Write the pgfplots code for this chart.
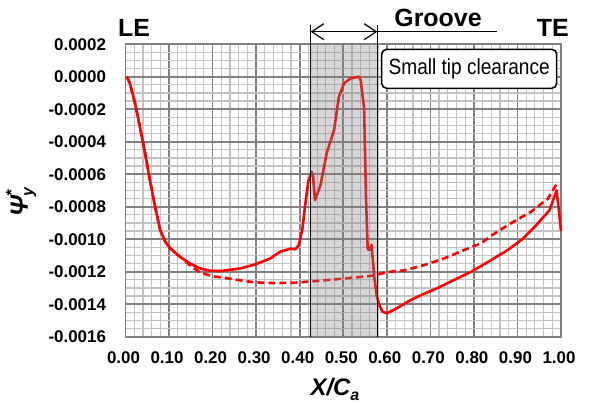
\documentclass[border=0pt]{standalone}
\usepackage{fontspec}
\setmainfont{Liberation Sans}
\usepackage{graphicx}
\usepackage{pgfplots}
\pgfplotsset{compat=1.18}
\usetikzlibrary{arrows.meta}
\definecolor{minorgrid}{gray}{0.76}
\definecolor{majorgrid}{gray}{0.5}
\begin{document}
\begin{tikzpicture}
\useasboundingbox (-125.5bp,-68.3bp) rectangle (464.5bp,336.7bp);
\begin{axis}[
  at={(0,0)}, anchor=south west,
  scale only axis, width=435.5bp, height=292.5bp,
  xmin=0, xmax=1, ymin=-0.0016, ymax=0.0002,
  xtick={0,0.1,0.2,0.3,0.4,0.5,0.6,0.7,0.8,0.9,1},
  xticklabels={0.00,0.10,0.20,0.30,0.40,0.50,0.60,0.70,0.80,0.90,1.00},
  ytick={-0.0016,-0.0014,-0.0012,-0.001,-0.0008,-0.0006,-0.0004,-0.0002,0,0.0002},
  yticklabels={-0.0016,-0.0014,-0.0012,-0.0010,-0.0008,-0.0006,-0.0004,-0.0002,0.0000,0.0002},
  scaled x ticks=false, scaled y ticks=false,
  minor x tick num=4, minor y tick num=3,
  grid=both,
  minor grid style={draw=minorgrid, line width=1.2bp},
  major grid style={draw=majorgrid, line width=1.7bp},
  axis line style={draw=majorgrid, line width=1.7bp},
  major tick length=0pt, minor tick length=0pt,
  tick style={draw=none},
  /pgf/number format/assume math mode=true,
  xticklabel style={font=\fontsize{17}{17}\selectfont\bfseries, yshift=-11bp, xshift=-2bp},
  yticklabel style={font=\fontsize{17}{17}\selectfont\bfseries, xshift=-16bp},
  clip=false,
]
\addplot[red, line width=2.6bp, dash pattern=on 7bp off 4bp, line join=round] coordinates {
(0.003,0) (0.01,-0.00004) (0.022,-0.000164) (0.033,-0.000308) (0.045,-0.000471)
(0.056,-0.000636) (0.068,-0.0008) (0.0795,-0.000943) (0.091,-0.001015) (0.1025,-0.001056)
(0.125,-0.001108) (0.148,-0.00116) (0.171,-0.001205) (0.2,-0.001228) (0.232,-0.00124)
(0.256,-0.00125) (0.294,-0.001265) (0.34,-0.00127) (0.386,-0.001268) (0.44,-0.001257)
(0.49,-0.001245) (0.532,-0.001234) (0.565,-0.001225) (0.59,-0.00121) (0.609,-0.0012)
(0.64,-0.001192) (0.686,-0.001159) (0.732,-0.001118) (0.778,-0.001066) (0.817,-0.001025)
(0.84,-0.000978) (0.886,-0.0009) (0.932,-0.00083) (0.97,-0.00075) (0.99,-0.00066)
};
\addplot[red, line width=2.6bp, line join=round] coordinates {
(0.003,0) (0.01,-0.00004) (0.022,-0.000164) (0.033,-0.000308) (0.045,-0.000471)
(0.056,-0.000636) (0.068,-0.0008) (0.0795,-0.000943) (0.091,-0.001015) (0.1025,-0.001056)
(0.125,-0.001108) (0.148,-0.001149) (0.171,-0.00118) (0.195,-0.001194) (0.218,-0.001196)
(0.264,-0.00118) (0.30,-0.001153) (0.333,-0.001118) (0.355,-0.001077) (0.364,-0.00107)
(0.379,-0.001058) (0.39,-0.001062) (0.398,-0.001036) (0.406,-0.00094) (0.413,-0.00078)
(0.42,-0.00064) (0.4275,-0.000585) (0.431,-0.00062) (0.435,-0.00076) (0.448,-0.000665)
(0.462,-0.00047) (0.479,-0.000328) (0.49,-0.000123) (0.502,-0.00004) (0.517,-0.00001)
(0.536,0) (0.54,-0.00002) (0.548,-0.0002) (0.552,-0.00072) (0.556,-0.00106)
(0.56,-0.001066) (0.565,-0.001035) (0.571,-0.00123) (0.577,-0.00135) (0.582,-0.0014)
(0.59,-0.001446) (0.60,-0.001456) (0.623,-0.001425) (0.655,-0.001374) (0.678,-0.001345)
(0.717,-0.0013) (0.755,-0.00125) (0.794,-0.0012) (0.84,-0.001128) (0.878,-0.001066)
(0.909,-0.001005) (0.94,-0.000923) (0.974,-0.00082) (0.982,-0.00076) (0.99,-0.0007)
(0.995,-0.00082) (1.0,-0.00095)
};
\fill[gray, opacity=0.32] (axis cs:0.425,-0.0016) rectangle (axis cs:0.578,0.0002);
\end{axis}
% groove lines
\draw[black, line width=1.2bp] (185.2bp,0bp) -- (185.2bp,311.7bp);
\draw[black, line width=1.2bp] (251.8bp,0bp) -- (251.8bp,311.7bp);
\draw[black, line width=1.2bp, {Straight Barb[length=12bp,width=16bp]}-{Straight Barb[length=12bp,width=16bp]}] (185.2bp,305bp) -- (251.8bp,305bp);
\draw[black, line width=1.2bp] (251.8bp,305bp) -- (371.2bp,305bp);
\node[font=\fontsize{25}{25}\selectfont\bfseries, inner sep=0pt] at (312.5bp,319.2bp) {Groove};
\node[font=\fontsize{25}{25}\selectfont\bfseries, inner sep=0pt] at (8.5bp,309.2bp) {LE};
\node[font=\fontsize{25}{25}\selectfont\bfseries, inner sep=0pt] at (427.3bp,309.2bp) {TE};
\node[draw=black, fill=white, line width=1.5bp, rounded corners=5bp, minimum width=175bp, minimum height=39bp, inner sep=0pt] at (343.7bp,267.9bp) {\fontsize{22}{22}\selectfont\scalebox{0.87}[1]{Small tip clearance}};
% axis labels
\node[anchor=base, inner sep=0pt] at (209.5bp,-58.3bp) {\fontsize{24}{24}\selectfont\bfseries\itshape X/C\raisebox{-5bp}{\fontsize{16}{16}\selectfont a}};
\node[rotate=90, anchor=base west, inner sep=0pt] at (-97.5bp,119.7bp) {\fontsize{25}{25}\selectfont\bfseries\itshape Ψ\rlap{\raisebox{11bp}{\fontsize{16}{16}\selectfont *}}\raisebox{-5bp}{\fontsize{16}{16}\selectfont y}};
\end{tikzpicture}
\end{document}
